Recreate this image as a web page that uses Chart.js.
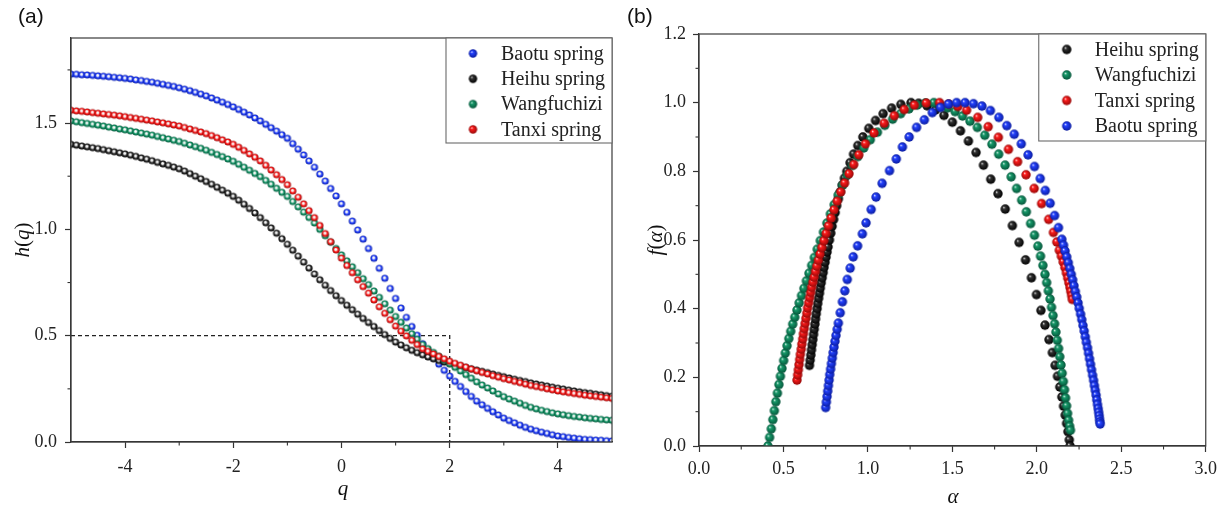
<!DOCTYPE html>
<html><head><meta charset="utf-8">
<script src="https://cdn.jsdelivr.net/npm/chart.js@4.4.1/dist/chart.umd.min.js"></script>
<style>
html,body{margin:0;padding:0;background:#fff;}
#wrap{position:relative;width:1223px;height:506px;overflow:hidden;background:#fff}
canvas{position:absolute;top:0}
.pl{position:absolute;font-family:"Liberation Sans",Arial,sans-serif;font-size:21px;color:#111;line-height:24px}
.at{position:absolute;font-family:"Liberation Serif","Times New Roman",serif;font-size:21px;color:#111;font-style:italic;white-space:nowrap;line-height:24px;transform:translate(-50%,-50%)}
.rot{transform:translate(-50%,-50%) rotate(-90deg)}
.up{font-style:normal}
</style></head><body>
<div id="wrap">
<canvas id="ca" width="620" height="506" style="left:0"></canvas>
<canvas id="cb" width="603" height="506" style="left:620px"></canvas>
<div class="pl" style="left:18px;top:4px">(a)</div>
<div class="pl" style="left:627px;top:4px">(b)</div>
<div class="at rot" style="left:22px;top:240px">h<span class="up">(</span>q<span class="up">)</span></div>
<div class="at" style="left:343px;top:488px">q</div>
<div class="at rot" style="left:655px;top:240px">f<span class="up">(</span>α<span class="up">)</span></div>
<div class="at" style="left:953px;top:496px">α</div>
</div>
<script>
// ---------- Panel (a): h(q) ----------
const qValues = [-5.0,-4.9,-4.8,-4.7,-4.6,-4.5,-4.4,-4.3,-4.2,-4.1,-4.0,-3.9,-3.8,-3.7,-3.6,-3.5,-3.4,-3.3,-3.2,-3.1,-3.0,-2.9,-2.8,-2.7,-2.6,-2.5,-2.4,-2.3,-2.2,-2.1,-2.0,-1.9,-1.8,-1.7,-1.6,-1.5,-1.4,-1.3,-1.2,-1.1,-1.0,-0.9,-0.8,-0.7,-0.6,-0.5,-0.4,-0.3,-0.2,-0.1,0.0,0.1,0.2,0.3,0.4,0.5,0.6,0.7,0.8,0.9,1.0,1.1,1.2,1.3,1.4,1.5,1.6,1.7,1.8,1.9,2.0,2.1,2.2,2.3,2.4,2.5,2.6,2.7,2.8,2.9,3.0,3.1,3.2,3.3,3.4,3.5,3.6,3.7,3.8,3.9,4.0,4.1,4.2,4.3,4.4,4.5,4.6,4.7,4.8,4.9,5.0];
const baotuH = [1.730,1.729,1.727,1.726,1.724,1.722,1.720,1.718,1.715,1.713,1.710,1.707,1.703,1.700,1.696,1.692,1.687,1.682,1.677,1.672,1.666,1.659,1.652,1.644,1.636,1.628,1.618,1.608,1.598,1.587,1.576,1.564,1.551,1.538,1.524,1.510,1.494,1.478,1.462,1.445,1.428,1.403,1.377,1.350,1.322,1.292,1.260,1.227,1.192,1.157,1.120,1.080,1.039,0.997,0.954,0.910,0.864,0.817,0.770,0.722,0.675,0.630,0.586,0.543,0.502,0.462,0.428,0.396,0.366,0.337,0.310,0.285,0.261,0.237,0.214,0.192,0.175,0.158,0.142,0.127,0.112,0.101,0.090,0.079,0.069,0.060,0.053,0.046,0.040,0.034,0.028,0.025,0.021,0.018,0.015,0.012,0.011,0.009,0.008,0.006,0.005];
const heihuH = [1.400,1.396,1.392,1.388,1.384,1.380,1.375,1.370,1.365,1.360,1.355,1.349,1.343,1.336,1.330,1.323,1.315,1.308,1.301,1.293,1.285,1.274,1.262,1.250,1.238,1.225,1.212,1.198,1.184,1.170,1.155,1.137,1.118,1.098,1.077,1.055,1.031,1.007,0.982,0.956,0.930,0.902,0.874,0.846,0.818,0.790,0.763,0.737,0.712,0.688,0.665,0.643,0.622,0.601,0.581,0.562,0.543,0.524,0.505,0.487,0.470,0.456,0.443,0.431,0.420,0.410,0.400,0.391,0.383,0.376,0.369,0.362,0.356,0.350,0.344,0.338,0.332,0.326,0.319,0.313,0.307,0.301,0.295,0.289,0.284,0.278,0.273,0.268,0.263,0.258,0.253,0.249,0.244,0.240,0.236,0.232,0.229,0.225,0.222,0.218,0.215];
const wangH = [1.510,1.506,1.502,1.498,1.494,1.490,1.486,1.481,1.477,1.472,1.468,1.463,1.458,1.453,1.448,1.443,1.437,1.431,1.425,1.419,1.413,1.405,1.397,1.389,1.381,1.372,1.362,1.352,1.342,1.331,1.320,1.306,1.292,1.278,1.263,1.248,1.230,1.212,1.193,1.174,1.155,1.131,1.106,1.081,1.056,1.030,1.000,0.970,0.940,0.910,0.880,0.852,0.824,0.796,0.768,0.740,0.710,0.680,0.650,0.620,0.590,0.563,0.536,0.509,0.483,0.458,0.439,0.421,0.403,0.385,0.368,0.351,0.334,0.317,0.300,0.283,0.268,0.254,0.240,0.226,0.213,0.202,0.192,0.182,0.172,0.163,0.156,0.149,0.143,0.137,0.132,0.128,0.124,0.120,0.117,0.114,0.111,0.109,0.106,0.104,0.102];
const tanxiH = [1.560,1.557,1.555,1.552,1.549,1.546,1.543,1.540,1.537,1.534,1.530,1.526,1.522,1.518,1.514,1.510,1.505,1.501,1.496,1.491,1.486,1.479,1.472,1.465,1.458,1.450,1.441,1.431,1.421,1.411,1.400,1.386,1.371,1.355,1.339,1.322,1.301,1.279,1.257,1.234,1.210,1.181,1.151,1.120,1.088,1.055,1.018,0.980,0.942,0.903,0.865,0.830,0.796,0.763,0.731,0.700,0.668,0.636,0.605,0.575,0.545,0.521,0.499,0.478,0.458,0.438,0.426,0.414,0.402,0.391,0.380,0.370,0.361,0.352,0.343,0.335,0.327,0.320,0.312,0.305,0.298,0.292,0.285,0.279,0.272,0.266,0.261,0.256,0.250,0.245,0.240,0.236,0.232,0.228,0.224,0.220,0.217,0.214,0.211,0.208,0.205];
const guideQ = [-5, 2, 2];
const guideH = [0.5, 0.5, 0];
const aXTicks = [-4,-2,0,2,4];
const aXLabels = ['-4','-2','0','2','4'];
const aXMinor = [-3,-1,1,3];
const aYTicks = [0,0.5,1.0,1.5];
const aYLabels = ['0.0','0.5','1.0','1.5'];
const aYMinor = [0.25,0.75,1.25,1.75];
const aLegend = ['Baotu spring','Heihu spring','Wangfuchizi','Tanxi spring'];

// ---------- Panel (b): f(alpha) ----------
const heihuAlpha = [0.654,0.658,0.662,0.666,0.670,0.674,0.678,0.682,0.686,0.690,0.694,0.699,0.703,0.708,0.713,0.718,0.723,0.729,0.735,0.740,0.746,0.752,0.758,0.764,0.772,0.780,0.788,0.797,0.806,0.815,0.825,0.836,0.848,0.861,0.875,0.894,0.915,0.940,0.970,1.005,1.045,1.090,1.140,1.195,1.255,1.300,1.350,1.400,1.450,1.500,1.548,1.595,1.640,1.684,1.727,1.770,1.813,1.855,1.895,1.933,1.968,1.998,2.024,2.048,2.072,2.092,2.108,2.122,2.136,2.148,2.158,2.168,2.176,2.184,2.192,2.197];
const heihuF = [0.235,0.250,0.265,0.280,0.295,0.310,0.325,0.340,0.355,0.370,0.385,0.400,0.415,0.430,0.445,0.460,0.475,0.490,0.505,0.520,0.535,0.550,0.565,0.580,0.600,0.620,0.640,0.660,0.680,0.700,0.720,0.740,0.760,0.780,0.800,0.825,0.850,0.875,0.900,0.925,0.948,0.968,0.984,0.995,1.000,0.998,0.991,0.979,0.963,0.943,0.918,0.888,0.855,0.818,0.777,0.735,0.690,0.642,0.593,0.542,0.490,0.441,0.395,0.352,0.310,0.272,0.235,0.203,0.172,0.143,0.116,0.090,0.066,0.042,0.018,0.000];
const wangAlpha = [0.408,0.418,0.428,0.437,0.446,0.455,0.464,0.473,0.482,0.491,0.501,0.511,0.521,0.532,0.543,0.555,0.567,0.580,0.593,0.607,0.621,0.636,0.651,0.667,0.683,0.700,0.718,0.737,0.757,0.778,0.800,0.824,0.850,0.878,0.908,0.940,0.975,1.014,1.056,1.100,1.146,1.194,1.243,1.292,1.340,1.390,1.427,1.472,1.516,1.560,1.604,1.648,1.692,1.734,1.774,1.812,1.848,1.880,1.910,1.938,1.963,1.986,2.006,2.022,2.036,2.048,2.058,2.068,2.078,2.087,2.096,2.105,2.113,2.121,2.129,2.136,2.143,2.150,2.157,2.164,2.170,2.176,2.182,2.188,2.194,2.199];
const wangF = [0.000,0.025,0.050,0.077,0.103,0.129,0.154,0.179,0.203,0.226,0.249,0.271,0.292,0.313,0.334,0.355,0.375,0.396,0.417,0.438,0.459,0.481,0.503,0.526,0.549,0.573,0.598,0.623,0.649,0.676,0.703,0.731,0.760,0.789,0.817,0.843,0.868,0.892,0.914,0.934,0.952,0.968,0.982,0.993,0.999,1.000,0.994,0.985,0.974,0.961,0.946,0.928,0.905,0.879,0.850,0.818,0.784,0.750,0.716,0.682,0.648,0.614,0.582,0.553,0.526,0.500,0.476,0.452,0.428,0.404,0.380,0.356,0.332,0.308,0.284,0.260,0.236,0.212,0.188,0.164,0.140,0.117,0.095,0.075,0.058,0.046];
const tanxiAlpha = [0.580,0.584,0.588,0.592,0.596,0.600,0.605,0.609,0.614,0.618,0.623,0.628,0.633,0.638,0.643,0.649,0.655,0.661,0.667,0.674,0.681,0.689,0.697,0.706,0.716,0.727,0.739,0.752,0.766,0.782,0.799,0.818,0.839,0.862,0.888,0.916,0.946,0.985,1.036,1.096,1.156,1.215,1.275,1.345,1.424,1.478,1.532,1.584,1.650,1.712,1.772,1.832,1.886,1.936,1.984,2.028,2.070,2.098,2.118,2.133,2.145,2.156,2.166,2.175,2.183,2.190,2.196,2.201,2.206,2.210];
const tanxiF = [0.192,0.207,0.222,0.237,0.252,0.267,0.282,0.297,0.312,0.327,0.342,0.357,0.372,0.387,0.402,0.417,0.432,0.447,0.462,0.477,0.492,0.508,0.524,0.541,0.559,0.578,0.598,0.619,0.641,0.664,0.688,0.713,0.740,0.766,0.793,0.820,0.848,0.880,0.912,0.940,0.962,0.980,0.993,0.999,1.000,0.996,0.989,0.978,0.957,0.930,0.899,0.864,0.828,0.790,0.750,0.706,0.660,0.622,0.594,0.570,0.553,0.536,0.520,0.504,0.489,0.475,0.462,0.450,0.438,0.427];
const baotuAlpha = [0.750,0.754,0.758,0.762,0.766,0.770,0.774,0.779,0.784,0.789,0.794,0.799,0.805,0.811,0.818,0.825,0.836,0.849,0.863,0.878,0.895,0.913,0.939,0.967,0.989,1.019,1.048,1.084,1.128,1.168,1.204,1.244,1.288,1.334,1.381,1.429,1.477,1.525,1.575,1.625,1.675,1.725,1.775,1.822,1.866,1.908,1.948,1.986,2.020,2.050,2.079,2.105,2.128,2.148,2.158,2.167,2.177,2.186,2.195,2.204,2.212,2.220,2.228,2.236,2.244,2.251,2.259,2.266,2.273,2.280,2.287,2.293,2.300,2.306,2.312,2.318,2.324,2.330,2.336,2.341,2.346,2.351,2.355,2.359,2.363,2.366,2.369,2.371,2.373,2.375];
const baotuF = [0.112,0.128,0.144,0.160,0.176,0.192,0.208,0.224,0.240,0.256,0.272,0.288,0.305,0.322,0.340,0.358,0.388,0.420,0.452,0.485,0.518,0.551,0.583,0.618,0.650,0.689,0.725,0.765,0.802,0.836,0.871,0.900,0.928,0.950,0.971,0.986,0.996,1.000,1.000,0.997,0.990,0.977,0.957,0.933,0.908,0.880,0.848,0.814,0.779,0.744,0.707,0.671,0.636,0.602,0.585,0.568,0.551,0.534,0.517,0.500,0.484,0.467,0.450,0.434,0.417,0.401,0.384,0.368,0.351,0.335,0.318,0.302,0.286,0.270,0.254,0.238,0.222,0.206,0.191,0.176,0.162,0.148,0.134,0.121,0.109,0.098,0.088,0.078,0.070,0.064];
const bXTicks = [0,0.5,1.0,1.5,2.0,2.5,3.0];
const bXLabels = ['0.0','0.5','1.0','1.5','2.0','2.5','3.0'];
const bXMinor = [0.25,0.75,1.25,1.75,2.25,2.75];
const bYTicks = [0,0.2,0.4,0.6,0.8,1.0,1.2];
const bYLabels = ['0.0','0.2','0.4','0.6','0.8','1.0','1.2'];
const bYMinor = [0.1,0.3,0.5,0.7,0.9,1.1];
const bLegend = ['Heihu spring','Wangfuchizi','Tanxi spring','Baotu spring'];

// ---------- styling helpers ----------
const COLORS = {
  blue:  ['#2442ff','#0a1ca0'],
  black: ['#333333','#000000'],
  green: ['#179a6a','#05553a'],
  red:   ['#ff1c1c','#960808']
};
function sphere(key, r, ring){
  const s = Math.ceil(2*r)+2, c = document.createElement('canvas');
  c.width = s; c.height = s;
  const g = c.getContext('2d'), cx = s/2, cy = s/2;
  let gr;
  if (ring){
    gr = g.createRadialGradient(cx-0.15*r, cy-0.2*r, 0, cx, cy, r);
    gr.addColorStop(0,'#ffffff'); gr.addColorStop(0.25,'#f2f2f2');
    gr.addColorStop(0.6,COLORS[key][0]); gr.addColorStop(1,COLORS[key][1]);
  } else {
    gr = g.createRadialGradient(cx-0.35*r, cy-0.4*r, 0, cx, cy, r);
    gr.addColorStop(0,'#ffffff'); gr.addColorStop(0.3,COLORS[key][0]);
    gr.addColorStop(1,COLORS[key][1]);
  }
  g.fillStyle = gr; g.beginPath(); g.arc(cx,cy,r,0,Math.PI*2); g.fill();
  return c;
}
const SERIF = '"Liberation Serif","Times New Roman",serif';
Chart.defaults.font.family = SERIF;
Chart.defaults.color = '#222';

function pts(xs, ys){ return xs.map((x,i)=>({x:x, y:ys[i]})); }

const framePlugin = {
  id:'frame',
  afterDraw(chart){
    const a = chart.chartArea, ctx = chart.ctx;
    ctx.save(); ctx.strokeStyle = '#3a3a3a'; ctx.lineWidth = 1.2;
    ctx.strokeRect(a.left, a.top, a.right-a.left, a.bottom-a.top);
    ctx.restore();
  }
};
function minorPlugin(xm, ym){
  return { id:'minor', afterDraw(chart){
    const ctx = chart.ctx, xs = chart.scales.x, ys = chart.scales.y;
    ctx.save(); ctx.strokeStyle = '#333'; ctx.lineWidth = 1.1;
    xm.forEach(v=>{ const p = xs.getPixelForValue(v); ctx.beginPath(); ctx.moveTo(p, ys.bottom); ctx.lineTo(p, ys.bottom+3.5); ctx.stroke(); });
    ym.forEach(v=>{ const p = ys.getPixelForValue(v); ctx.beginPath(); ctx.moveTo(xs.left, p); ctx.lineTo(xs.left-3.5, p); ctx.stroke(); });
    ctx.restore();
  }};
}
function legendPlugin(labels, keys, box){
  return { id:'boxLegend', afterDraw(chart){
    const a = chart.chartArea, ctx = chart.ctx;
    const x0 = a.right - box.w, y0 = a.top;
    ctx.save();
    ctx.fillStyle = '#fff'; ctx.fillRect(x0, y0, box.w, box.h);
    ctx.strokeStyle = '#6a6a6a'; ctx.lineWidth = 1.1; ctx.strokeRect(x0, y0, box.w, box.h);
    ctx.font = '20px ' + SERIF; ctx.fillStyle = '#222'; ctx.textBaseline = 'middle'; ctx.textAlign = 'left';
    labels.forEach((t,i)=>{
      const y = y0 + box.first + box.step*i;
      const m = sphere(keys[i], box.mr, false);
      ctx.drawImage(m, x0 + box.mx - m.width/2, y - m.height/2);
      ctx.fillText(t, x0 + box.tx, y + 1);
    });
    ctx.restore();
  }};
}
function axis(min, max, ticks, labels, isX, fit, pad){
  return {
    type:'linear', min:min, max:max,
    afterBuildTicks: s => { s.ticks = ticks.map(v=>({value:v})); },
    afterFit: s => { if (isX) s.height = fit; else s.width = fit; },
    ticks:{ autoSkip:false, maxRotation:0, padding:pad, color:'#222',
      font:{family:SERIF, size:18},
      callback: v => { const k = ticks.findIndex(t=>Math.abs(t-v)<1e-9); return k>=0 ? labels[k] : ''; } },
    grid:{ drawOnChartArea:false, drawTicks:true, tickLength:6, color:'#333', tickColor:'#333', tickWidth:1.2 },
    border:{ display:true, color:'#333', width:1.2 }
  };
}

// ---------- chart (a) ----------
new Chart(document.getElementById('ca'), {
  type:'scatter',
  data:{ datasets:[
    { label:aLegend[0], data:pts(qValues, baotuH), pointStyle:sphere('blue',3.6,true), pointRadius:3.5, order:4 },
    { label:aLegend[1], data:pts(qValues, heihuH), pointStyle:sphere('black',3.6,true), pointRadius:3.5, order:3 },
    { label:aLegend[2], data:pts(qValues, wangH), pointStyle:sphere('green',3.6,true), pointRadius:3.5, order:2 },
    { label:aLegend[3], data:pts(qValues, tanxiH), pointStyle:sphere('red',3.6,true), pointRadius:3.5, order:1 },
    { label:'guide', data:pts(guideQ, guideH), showLine:true, pointRadius:0, borderColor:'#222', borderWidth:1.3, borderDash:[4,3], order:10 }
  ]},
  options:{
    responsive:false, animation:false, events:[],
    layout:{ padding:{ top:38, right:8, left:0, bottom:0 } },
    plugins:{ legend:{display:false}, tooltip:{enabled:false} },
    scales:{ x: axis(-5, 5, aXTicks, aXLabels, true, 64, 8), y: axis(0, 1.9, aYTicks, aYLabels, false, 71, 8) }
  },
  plugins:[ minorPlugin(aXMinor, aYMinor), framePlugin, legendPlugin(aLegend, ['blue','black','green','red'], {w:166, h:105, first:15.5, step:25.3, mx:27, tx:55, mr:4.2}) ]
});

// ---------- chart (b) ----------
new Chart(document.getElementById('cb'), {
  type:'scatter',
  data:{ datasets:[
    { label:bLegend[0], data:pts(heihuAlpha, heihuF), pointStyle:sphere('black',4.7,false), pointRadius:4.5, order:4 },
    { label:bLegend[1], data:pts(wangAlpha, wangF), pointStyle:sphere('green',4.7,false), pointRadius:4.5, order:3 },
    { label:bLegend[2], data:pts(tanxiAlpha, tanxiF), pointStyle:sphere('red',4.7,false), pointRadius:4.5, order:2 },
    { label:bLegend[3], data:pts(baotuAlpha, baotuF), pointStyle:sphere('blue',4.7,false), pointRadius:4.5, order:1 }
  ]},
  options:{
    responsive:false, animation:false, events:[],
    layout:{ padding:{ top:34, right:16, left:0, bottom:0 } },
    plugins:{ legend:{display:false}, tooltip:{enabled:false} },
    scales:{ x: axis(0, 3, bXTicks, bXLabels, true, 60, 6), y: axis(0, 1.2, bYTicks, bYLabels, false, 79, 7) }
  },
  plugins:[ minorPlugin(bXMinor, bYMinor), framePlugin, legendPlugin(bLegend, ['black','green','red','blue'], {w:167, h:107, first:15.5, step:25.5, mx:28, tx:56, mr:4.7}) ]
});
</script>
</body></html>
